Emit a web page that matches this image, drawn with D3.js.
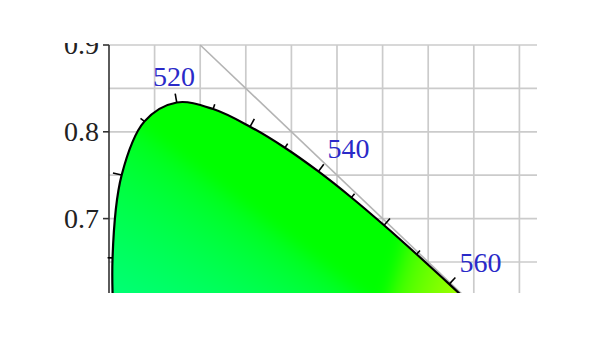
<!DOCTYPE html>
<html><head><meta charset="utf-8">
<script src="https://cdn.jsdelivr.net/npm/d3@7"></script>
<style>html,body{margin:0;padding:0;background:#fff;}svg{display:block;}</style>
</head><body>
<svg id="chart" width="600" height="338"></svg>
<script>
// CIE 1931 2° spectral locus (wavelength nm, chromaticity x, y)
const wavelengths = [490,495,500,505,510,515,520,525,530,535,540,545,550,555,560,565,570,575];
const locusX = [0.0454,0.0235,0.0082,0.0039,0.0139,0.0389,0.0743,0.1142,0.1547,0.1929,0.2296,0.2658,0.3016,0.3373,0.3731,0.4087,0.4441,0.4788];
const locusY = [0.2950,0.4127,0.5384,0.6548,0.7502,0.8120,0.8338,0.8262,0.8059,0.7816,0.7543,0.7243,0.6923,0.6589,0.6245,0.5896,0.5547,0.5202];
const labelledWavelengths = [520,540,560];
const gridX = [0.05,0.10,0.15,0.20,0.25,0.30,0.35,0.40,0.45];
const gridY = [0.65,0.70,0.75,0.80,0.85,0.90];
const yAxisTicks = [0.7,0.8,0.9];
const yTickLabels = ["0.7","0.8","0.9"];

const svg = d3.select("#chart");
const clipL = 0, clipT = 43, clipR = 537, clipB = 293;

const x = d3.scaleLinear().domain([0,0.5]).range([109,565]);
const y = d3.scaleLinear().domain([0.6,0.9]).range([305.4,45]);

const defs = svg.append("defs");
defs.append("clipPath").attr("id","frame").append("rect")
  .attr("x",clipL).attr("y",clipT).attr("width",clipR-clipL).attr("height",clipB-clipT);

const pts = wavelengths.map((w,i)=>({w, x:locusX[i], y:locusY[i]}));
const line = d3.line().x(d=>x(d.x)).y(d=>y(d.y)).curve(d3.curveCatmullRom.alpha(0.5));
const closedPath = line(pts) + "Z";
defs.append("clipPath").attr("id","locusClip").append("path").attr("d", closedPath);

const g = svg.append("g").attr("clip-path","url(#frame)");

// grid
g.append("g").selectAll("line").data(gridX).join("line")
  .attr("x1",d=>x(d)).attr("x2",d=>x(d))
  .attr("y1",y(0.9)).attr("y2",clipB+5)
  .attr("stroke","#cbcbcb").attr("stroke-width",1.7);
g.append("g").selectAll("line").data(gridY).join("line")
  .attr("x1",x(0)).attr("x2",clipR+5)
  .attr("y1",d=>y(d)).attr("y2",d=>y(d))
  .attr("stroke","#cbcbcb").attr("stroke-width",1.7);

// x + y = 1 line
g.append("line")
  .attr("x1",x(0.1)).attr("y1",y(0.9))
  .attr("x2",x(0.45)).attr("y2",y(0.55))
  .attr("stroke","#b4b4b4").attr("stroke-width",1.6);

// chromaticity fill computed on a canvas, then softened
const pad = 40;
const bx0 = 105 - pad, by0 = clipT - pad, bw = 440 + 2*pad, bh = clipB - clipT + 2*pad;
const cv = document.createElement("canvas");
cv.width = bw; cv.height = bh;
const ctx = cv.getContext("2d");
const img = ctx.createImageData(bw,bh);
function gam(c){ return c<=0.0031308 ? 12.92*c : 1.055*Math.pow(c,1/2.4)-0.055; }
for(let j=0;j<bh;j++){
  for(let i=0;i<bw;i++){
    const cx = Math.max(x.invert(bx0+i+0.5), 0.0005), cy = y.invert(by0+j+0.5);
    const X = cx/cy, Y = 1, Z = Math.max((1-cx-cy)/cy, 0);
    let r = 3.2406*X - 1.5372*Y - 0.4986*Z;
    let gg = -0.9689*X + 1.8758*Y + 0.0415*Z;
    let b = 0.0557*X - 0.2040*Y + 1.0570*Z;
    r = Math.max(r,0); gg = Math.max(gg,0); b = Math.max(b,0);
    const m = Math.max(r,gg,b) || 1;
    const k = (j*bw+i)*4;
    img.data[k] = Math.round(255*Math.pow(r/m,0.5));
    img.data[k+1] = Math.round(255*gam(gg/m));
    img.data[k+2] = Math.round(255*Math.pow(b/m,0.55));
    img.data[k+3] = 255;
  }
}
ctx.putImageData(img,0,0);
const cv2 = document.createElement("canvas");
cv2.width = bw; cv2.height = bh;
const ctx2 = cv2.getContext("2d");
ctx2.filter = "blur(7px)";
ctx2.drawImage(cv,0,0);
g.append("image").attr("href", cv2.toDataURL())
  .attr("x",bx0).attr("y",by0).attr("width",bw).attr("height",bh)
  .attr("clip-path","url(#locusClip)");

// y axis
const axis = g.append("g").attr("transform",`translate(${x(0)},0)`);
axis.append("line").attr("x1",0).attr("x2",0).attr("y1",y(0.9)).attr("y2",clipB+5)
  .attr("stroke","#333").attr("stroke-width",1.6);
const yt = axis.selectAll("g.t").data(yAxisTicks).join("g").attr("class","t")
  .attr("transform",d=>`translate(0,${y(d)})`);
yt.append("line").attr("x1",-6).attr("x2",0).attr("stroke","#333").attr("stroke-width",1.6);
yt.append("text").attr("x",-10).attr("dy","0.33em").attr("text-anchor","end")
  .attr("font-family","'Liberation Serif', 'Times New Roman', serif").attr("font-size",28)
  .attr("fill","#222").text((d,i)=>yTickLabels[i]);

// spectral locus outline
g.append("path").attr("d", line(pts)).attr("fill","none")
  .attr("stroke","#000").attr("stroke-width",2.2);

// ticks along the locus (outward normals)
function normalAt(i){
  const a = pts[Math.max(i-1,0)], b = pts[Math.min(i+1,pts.length-1)];
  const tx = x(b.x)-x(a.x), ty = y(b.y)-y(a.y);
  const L = Math.hypot(tx,ty);
  return [ty/L, -tx/L];
}
const tickData = pts.map((p,i)=>({p, n:normalAt(i), major: p.w%10===0}));
g.append("g").selectAll("line").data(tickData).join("line")
  .attr("x1",d=>x(d.p.x)).attr("y1",d=>y(d.p.y))
  .attr("x2",d=>x(d.p.x)+d.n[0]*(d.major?9:5))
  .attr("y2",d=>y(d.p.y)+d.n[1]*(d.major?9:5))
  .attr("stroke","#000").attr("stroke-width",1.6);

// wavelength labels
const labData = tickData.filter(d=>labelledWavelengths.includes(d.p.w));
g.append("g").selectAll("text").data(labData).join("text")
  .attr("x",d=>x(d.p.x)+d.n[0]*15)
  .attr("y",d=>y(d.p.y)+d.n[1]*17)
  .attr("text-anchor",d=>d.n[0]>0.3?"start":"middle")
  .attr("font-family","'Liberation Serif', 'Times New Roman', serif").attr("font-size",28)
  .attr("fill","#2a2ac8").text(d=>d.p.w);
</script>
</body></html>
